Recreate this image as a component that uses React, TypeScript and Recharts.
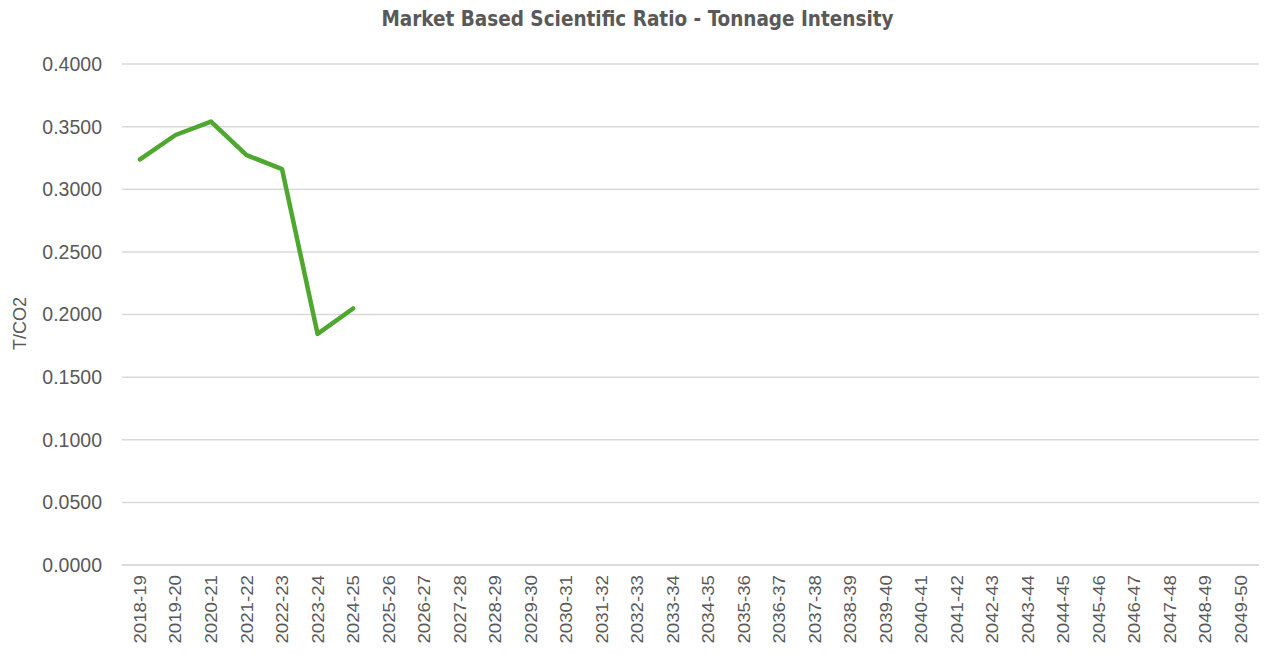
import React from 'react';
import { LineChart, Line, XAxis, YAxis, CartesianGrid } from 'recharts';

const years = [
  '2018-19', '2019-20', '2020-21', '2021-22', '2022-23', '2023-24', '2024-25', '2025-26',
  '2026-27', '2027-28', '2028-29', '2029-30', '2030-31', '2031-32', '2032-33', '2033-34',
  '2034-35', '2035-36', '2036-37', '2037-38', '2038-39', '2039-40', '2040-41', '2041-42',
  '2042-43', '2043-44', '2044-45', '2045-46', '2046-47', '2047-48', '2048-49', '2049-50',
];

// only the first seven years have actuals
const intensity = [0.3238, 0.3433, 0.354, 0.3273, 0.316, 0.1845, 0.2048];

const yTicks = [0, 0.05, 0.1, 0.15, 0.2, 0.25, 0.3, 0.35, 0.4];

const data = years.map((year, i) => ({
  year,
  value: i < intensity.length ? intensity[i] : null,
}));

const grey = '#595959';
const font = '"Liberation Sans", Arial, sans-serif';

const YearTick = (props: any) => {
  const { x, y, payload } = props;
  return (
    <g transform={`translate(${x},${y})`}>
      <text
        transform="rotate(-90) scale(1.1,1)"
        textAnchor="end"
        dy="0.35em"
        fill={grey}
        fontSize={17}
        fontFamily={font}
      >
        {payload.value}
      </text>
    </g>
  );
};

const AxisTitle = (props: any) => {
  const { viewBox } = props;
  const cx = viewBox.x + 20;
  const cy = viewBox.y + viewBox.height / 2 + 9;
  return (
    <text
      x={cx}
      y={cy}
      transform={`rotate(-90, ${cx}, ${cy})`}
      textAnchor="middle"
      dy="0.35em"
      fill={grey}
      fontSize={18}
      fontFamily={font}
    >
      T/CO2
    </text>
  );
};

export default function App() {
  return (
    <div style={{ position: 'absolute', left: 0, top: 0, width: 1275, height: 655, background: '#fff' }}>
      <div
        style={{
          position: 'absolute',
          top: 7,
          left: 0,
          width: 1275,
          textAlign: 'center',
          fontFamily: '"Liberation Sans Narrow", "DejaVu Sans Condensed", Arial, sans-serif',
          fontWeight: 'bold',
          fontSize: 20.5,
          color: grey,
        }}
      >
        Market Based Scientific Ratio - Tonnage Intensity
      </div>
      <LineChart
        width={1275}
        height={655}
        data={data}
        margin={{ top: 64, right: 16, bottom: 0, left: 0 }}
      >
        <CartesianGrid vertical={false} stroke="#d9d9d9" strokeWidth={1.5} />
        <XAxis
          dataKey="year"
          interval={0}
          height={90}
          padding={{ left: 18, right: 18 }}
          tickLine={false}
          tickSize={0}
          tickMargin={10}
          axisLine={{ stroke: '#d9d9d9', strokeWidth: 1.5 }}
          tick={<YearTick />}
        />
        <YAxis
          width={122}
          domain={[0, 0.4]}
          ticks={yTicks}
          tickFormatter={(v: number) => v.toFixed(4)}
          axisLine={false}
          tickLine={false}
          tickSize={0}
          tickMargin={20}
          tick={{ fill: grey, fontSize: 19.5, fontFamily: font }}
          label={{ content: <AxisTitle /> }}
        />
        <Line
          type="linear"
          dataKey="value"
          stroke="#4ea72e"
          strokeWidth={4.5}
          strokeLinejoin="round"
          strokeLinecap="round"
          dot={false}
          activeDot={false}
          connectNulls={false}
          isAnimationActive={false}
        />
      </LineChart>
    </div>
  );
}
